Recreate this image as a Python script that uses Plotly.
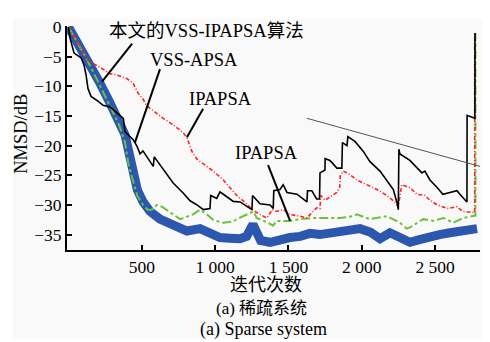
import plotly.graph_objects as go

# ---------------- data ----------------
blue_x = [0, 60, 120, 209, 277, 345, 386, 420, 441, 470, 509, 556, 624, 714, 808, 897, 965, 1033, 1100, 1170,
          1215, 1232, 1246, 1258, 1272, 1290, 1310, 1375, 1440, 1510, 1580, 1646, 1714, 1783, 1850, 1920, 1988,
          2060, 2124, 2192, 2260, 2328, 2400, 2465, 2530, 2601, 2680, 2786]
blue_y = [0, -2.5, -4.9, -9.2, -12.5, -15.7, -18.2, -22.0, -24.6, -27.5, -29.5, -31.1, -32.4, -33.5, -34.4, -34.0,
          -34.7, -35.5, -35.6, -35.7, -35.3, -34.8, -33.8, -33.3, -34.0, -35.4, -36.0, -36.3, -35.8, -35.5, -35.3,
          -34.8, -35.0, -34.7, -34.4, -34.2, -34.0, -34.6, -35.7, -34.7, -35.5, -36.3, -35.8, -35.2, -35.0, -34.7,
          -34.5, -34.0]

red_x = [0, 60, 134, 215, 284, 330, 398, 441, 476, 509, 535, 577, 646, 714, 782, 808, 842, 876, 944, 987, 1056,
         1101, 1147, 1215, 1251, 1306, 1352, 1390, 1419, 1464, 1510, 1578, 1626, 1668, 1692, 1715, 1720, 1749, 1805,
         1830, 1850, 1853, 1874, 1919, 1966, 2035, 2103, 2170, 2225, 2249, 2272, 2328, 2376, 2430, 2465, 2515, 2583,
         2649, 2690, 2770, 2770]
red_y = [0, -2.5, -5.7, -6.8, -7.9, -8.1, -8.7, -9.5, -11.2, -12.2, -13.3, -14.1, -15.4, -16.5, -17.8, -18.7,
         -21.0, -22.3, -23.5, -24.3, -25.8, -27.1, -28.4, -29.8, -30.8, -31.6, -32.2, -30.8, -31.1, -30.8, -31.6,
         -31.9, -32.2, -31.1, -30.5, -30.6, -28.4, -29.2, -28.2, -27.9, -27.0, -25.1, -24.3, -24.9, -25.8, -26.6,
         -27.4, -28.4, -29.5, -30.3, -26.6, -27.1, -28.2, -28.4, -29.2, -30.0, -30.6, -30.3, -31.1, -31.3, -1.0]

green_x = [0, 60, 120, 209, 277, 345, 386, 408, 441, 470, 509, 540, 569, 603, 637, 714, 761, 850, 897, 944, 990,
           1056, 1124, 1147, 1215, 1262, 1283, 1352, 1396, 1419, 1510, 1578, 1668, 1760, 1851, 1942, 1966, 2056,
           2170, 2260, 2306, 2328, 2376, 2419, 2488, 2556, 2624, 2692, 2775, 2775]
green_y = [0, -2.7, -5.2, -9.6, -13.0, -16.5, -19.5, -23.0, -26.0, -28.5, -30.0, -30.8, -30.8, -30.0, -30.3,
           -31.6, -32.4, -31.6, -30.8, -31.6, -32.6, -33.0, -32.8, -32.4, -31.6, -31.1, -32.2, -32.9, -33.5, -32.7,
           -32.7, -32.4, -32.2, -32.2, -32.2, -31.9, -31.6, -32.4, -31.9, -33.0, -34.0, -33.8, -33.0, -32.4, -32.7,
           -32.2, -33.0, -32.2, -31.8, -1.0]

black_x = [0, 11, 38, 86, 107, 120, 133, 154, 201, 236, 284, 330, 374, 386, 441, 467, 488, 508, 543, 578, 585,
           603, 645, 714, 782, 829, 876, 920, 965, 970, 1011, 1033, 1056, 1124, 1170, 1217, 1251, 1255, 1306, 1375,
           1396, 1400, 1442, 1464, 1490, 1558, 1599, 1626, 1630, 1659, 1692, 1712, 1715, 1749, 1750, 1783, 1830,
           1864, 1868, 1899, 1905, 1953, 2008, 2056, 2124, 2170, 2215, 2242, 2249, 2253, 2260, 2328, 2376, 2396,
           2410, 2430, 2465, 2515, 2553, 2601, 2649, 2669, 2717, 2718, 2771, 2772]
black_y = [0, -1.9, -4.4, -5.2, -6.5, -8.1, -10.4, -11.7, -12.5, -13.2, -13.5, -14.5, -15.4, -17.7, -19.0, -20.1,
           -21.4, -20.9, -22.2, -23.5, -21.9, -22.5, -24.1, -26.3, -28.0, -29.3, -30.0, -30.8, -30.6, -28.4, -28.9,
           -27.8, -28.2, -29.4, -29.5, -30.2, -30.8, -28.4, -29.8, -30.0, -30.6, -27.6, -27.4, -26.6, -27.9, -28.2,
           -29.0, -29.5, -27.6, -27.6, -29.0, -29.0, -24.6, -24.1, -22.2, -22.5, -23.8, -23.8, -19.5, -20.0, -18.5,
           -19.3, -20.9, -22.7, -24.3, -25.9, -27.4, -29.8, -30.8, -20.6, -21.4, -22.5, -23.8, -24.3, -24.6, -24.3,
           -25.8, -27.1, -28.2, -27.9, -27.6, -28.2, -29.5, -14.9, -15.4, -1.0]

x_tickvals = [500, 1000, 1500, 2000, 2500]
x_ticktext = ["500", "1 000", "1 500", "2 000", "2 500"]
y_tickvals = [0, -5, -10, -15, -20, -25, -30, -35]
y_ticktext = ["0", "−5", "−10", "−15", "−20", "−25", "−30", "−35"]

label_texts = ["本文的VSS-IPAPSA算法", "VSS-APSA", "IPAPSA", "IPAPSA"]
label_x = [263, 543, 808, 1122]
label_y = [-0.7, -5.5, -12.2, -21.2]
pointer_x0 = [434, 624, 918, 1361]
pointer_y0 = [-2.8, -7.1, -13.8, -23.3]
pointer_x1 = [229, 453, 808, 1511]
pointer_y1 = [-9.2, -19.5, -18.6, -32.7]
ref_line_x = [1626, 2806]
ref_line_y = [-15.4, -23.5]

FONT = "Liberation Serif, Noto Sans CJK SC, serif"

fig = go.Figure()
fig.add_trace(go.Scatter(x=blue_x, y=blue_y, mode="lines",
                         line=dict(color="#2b58ae", width=9), showlegend=False))
fig.add_trace(go.Scatter(x=green_x, y=green_y, mode="lines",
                         line=dict(color="#6cc23a", width=2, dash="dashdot"), showlegend=False))
fig.add_trace(go.Scatter(x=red_x, y=red_y, mode="lines",
                         line=dict(color="#ff2222", width=1.6, dash="4px,2px,1px,2px"), showlegend=False))
fig.add_trace(go.Scatter(x=black_x, y=black_y, mode="lines",
                         line=dict(color="black", width=1.6), showlegend=False))
fig.add_trace(go.Scatter(x=ref_line_x, y=ref_line_y, mode="lines",
                         line=dict(color="#555555", width=1), showlegend=False))

for i in range(len(label_texts)):
    fig.add_shape(type="line", xref="x", yref="y",
                  x0=pointer_x0[i], y0=pointer_y0[i], x1=pointer_x1[i], y1=pointer_y1[i],
                  line=dict(color="black", width=2))
    fig.add_annotation(x=label_x[i], y=label_y[i], xref="x", yref="y", text=label_texts[i],
                       showarrow=False, xanchor="left", yanchor="middle",
                       font=dict(family=FONT, size=18.5, color="black"))

# background of the scanned figure
fig.add_shape(type="rect", xref="paper", yref="paper", x0=-0.131, x1=1.005, y0=-0.395, y1=1.03,
              fillcolor="#f9f9f9", line=dict(width=0), layer="below")

fig.add_annotation(x=-0.113, y=0.52, xref="paper", yref="paper", text="NMSD/dB", textangle=-90,
                   showarrow=False, xanchor="center", yanchor="middle",
                   font=dict(family=FONT, size=18.5, color="black"))
fig.add_annotation(x=0.482, y=-0.158, xref="paper", yref="paper", text="迭代次数",
                   showarrow=False, xanchor="center", yanchor="middle",
                   font=dict(family=FONT, size=18, color="black"))
fig.add_annotation(x=0.472, y=-0.262, xref="paper", yref="paper", text="(a) 稀疏系统",
                   showarrow=False, xanchor="center", yanchor="middle",
                   font=dict(family=FONT, size=17, color="black"))
fig.add_annotation(x=0.475, y=-0.355, xref="paper", yref="paper", text="(a) Sparse system",
                   showarrow=False, xanchor="center", yanchor="middle",
                   font=dict(family=FONT, size=18, color="black"))

# the page body has an 8 px default margin, so the figure is 8 px smaller and margins shifted
fig.update_layout(
    width=482, height=334,
    margin=dict(l=59, r=10, t=9, b=92),
    paper_bgcolor="white", plot_bgcolor="#f9f9f9",
    font=dict(family=FONT, size=17.5, color="black"),
    xaxis=dict(range=[-10, 2806], tickvals=x_tickvals, ticktext=x_ticktext,
               showline=True, linecolor="black", linewidth=2, mirror=False,
               ticks="inside", ticklen=5, tickwidth=2, tickcolor="black",
               showgrid=False, zeroline=False),
    yaxis=dict(range=[-37.6, 0.16], tickvals=y_tickvals, ticktext=y_ticktext,
               showline=True, linecolor="black", linewidth=2, mirror=False,
               ticks="inside", ticklen=5, tickwidth=2, tickcolor="black",
               showgrid=False, zeroline=False),
)

fig.write_html("out.html")
